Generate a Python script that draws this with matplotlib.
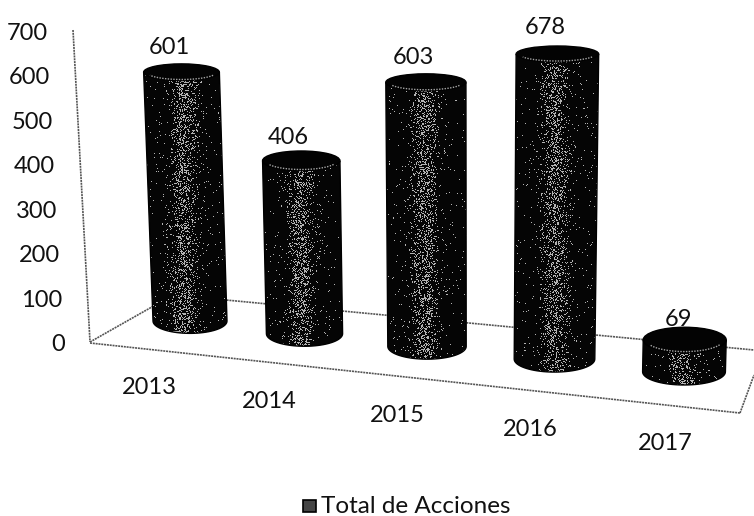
import numpy as np
import matplotlib
matplotlib.use("Agg")
import matplotlib.pyplot as plt
from matplotlib.patches import Ellipse, PathPatch, Rectangle
from matplotlib.path import Path

years = ["2013", "2014", "2015", "2016", "2017"]
acciones = [601, 406, 603, 678, 69]
y_ticks = [0, 100, 200, 300, 400, 500, 600, 700]
legend_label = "Total de Acciones"

plt.rcParams['font.family'] = ['Lato', 'DejaVu Sans']

# fake 3d view, the axes work in pixels of the 754x516 picture
def base_x(i):
    return 190 + 114.5 * i + 4 * i * (i - 1) - 0.5 * i * (i - 1) * (i - 2)

def base_y(i):
    return 321 + 12.7 * i

def top_y(i, v):
    return base_y(i) - v * (0.414 + 0.012 * i)

def rim(y):
    # ellipses flatten towards the top of the picture
    return 8 + (y - 53) * 0.0163

def speckle_image(x0, y0, w, h):
    # black cylinder with a sparse lighter band in the middle, grainy like the scan
    xx, yy = np.meshgrid(np.arange(w) + x0, np.arange(h) + y0)
    grain = np.sin(xx * 12.9898 + yy * 78.233) * 43758.5453
    grain = grain - np.floor(grain)
    u = (np.arange(w) - w * 0.48) / (w * 0.13)
    shade = 0.015 + 0.3 * np.exp(-u ** 2)
    shade = np.tile(shade, (h, 1))
    return np.where(grain < shade, 0.7, 0.02)

fig = plt.figure(figsize=(7.54, 5.16), dpi=100)
ax = fig.add_axes([0, 0, 1, 1])
ax.set_xlim(0, 754)
ax.set_ylim(516, 0)
ax.axis('off')

# walls and floor
line_kw = dict(color='#555555', lw=1.2, ls=(0, (1.2, 0.5)), zorder=1)
ax.plot([73, 90], [30, 342], **line_kw)
ax.plot([90, 740], [343, 413], **line_kw)
ax.plot([90, 173], [342, 295], **line_kw)
ax.plot([173, 754], [295, 350], **line_kw)
ax.plot([740, 754], [413, 375], **line_kw)

for i, v in enumerate(acciones):
    cx = base_x(i)
    yb = base_y(i)
    yt = top_y(i, v)
    xt = cx + v / 700 * (-9.9 + 4.3 * i)
    half_b = 37 + 1.1 * i
    half_t = half_b + v / 700
    rb, rt = rim(yb), rim(yt)

    # body outline, side walls joined by the lower half of the base ellipse
    t = np.linspace(np.pi, 0, 40)
    xs = [xt - half_t] + list(cx + half_b * np.cos(t)) + [xt + half_t]
    ys = [yt] + list(yb + rb * np.sin(t)) + [yt]
    patch = PathPatch(Path(np.column_stack([xs, ys])), fc='none', ec='black', lw=1, zorder=4)
    ax.add_patch(patch)
    x0 = int(min(xt - half_t, cx - half_b)) - 1
    x1 = int(max(xt + half_t, cx + half_b)) + 2
    y0, y1 = int(yt), int(yb + rb) + 2
    im = ax.imshow(speckle_image(x0, y0, x1 - x0, y1 - y0), cmap='gray', vmin=0, vmax=1,
                   interpolation='nearest', extent=[x0, x1, y1, y0], zorder=3, aspect='auto')
    im.set_clip_path(patch)

    # top face, only the front rim shows a lighter dotted line
    ax.add_patch(Ellipse((xt, yt), 2 * half_t, 2 * rt, fc='#030303', ec='black', lw=1, zorder=5))
    a = np.radians(np.linspace(25, 155, 30))
    ax.plot(xt + (half_t - 3) * np.cos(a), yt + (rt - 1) * np.sin(a), color='#a5a5a5', lw=1,
            ls=(0, (1, 1)), zorder=6)

    dx = -6 if v < 100 else -12.5
    ax.text(xt + dx, yt - rt - (6.5 + 0.017 * v), str(v), fontsize=17, ha='center', va='center',
            color='#111111', zorder=7)
    ax.text(cx - 41 + 5.5 * i, 387 + 14 * i, years[i], fontsize=17, ha='center', va='center',
            color='#111111')

for t in y_ticks:
    ax.text(48 + (700 - t) * 0.024, 344.5 - t * 0.4443, str(t), fontsize=17, ha='right', va='center',
            color='#111111')

# legend
ax.add_patch(Rectangle((303, 500), 13, 12, fc='#444444', ec='black', lw=1.2))
ax.text(321, 513, legend_label, fontsize=17.5, va='baseline', color='#111111')

fig.savefig("out.png", dpi=100)
